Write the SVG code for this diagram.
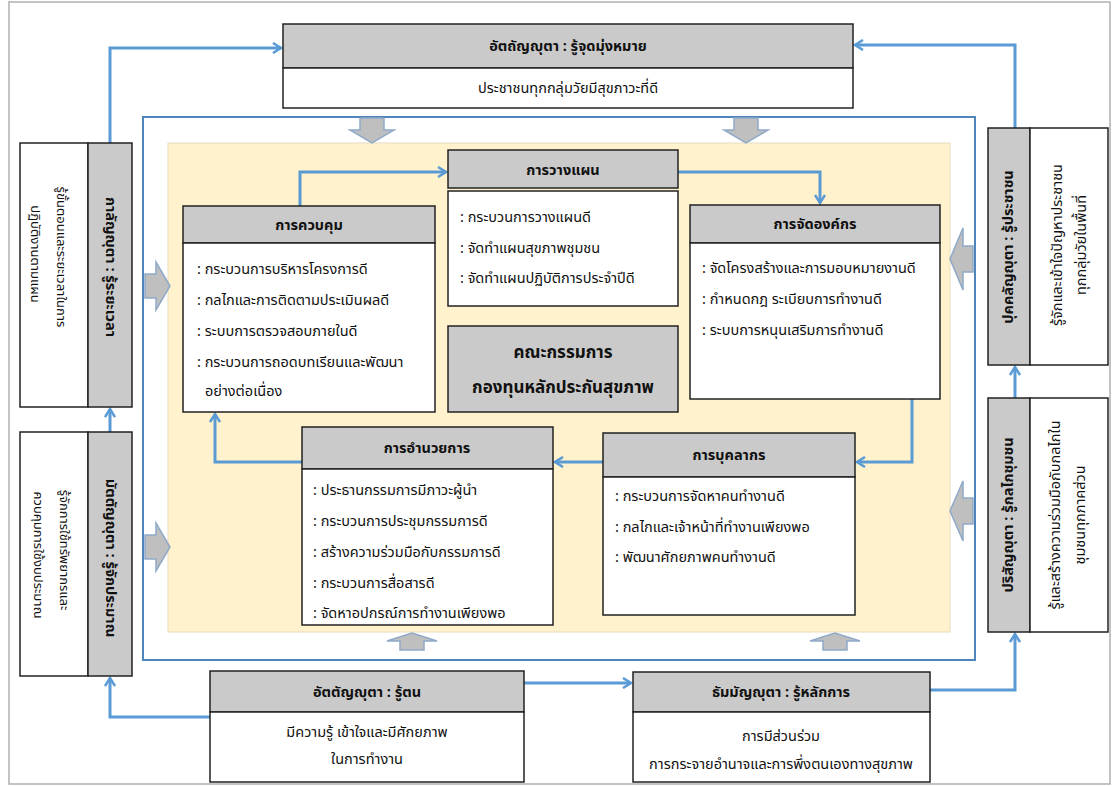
<svg xmlns="http://www.w3.org/2000/svg" width="1119" height="787" viewBox="0 0 1119 787">
<defs>
<style>
text{font-family:"Noto Sans Thai","Noto Sans","DejaVu Sans",sans-serif;font-size:14.5px;fill:#111}
.h{font-weight:bold;text-anchor:middle}
.c{text-anchor:middle}
.s{font-size:13px}
.big{font-size:17px;font-weight:bold;text-anchor:middle}
.hd{fill:#cacaca;stroke:#222;stroke-width:1.5}
.bd{fill:#fff;stroke:#222;stroke-width:1.5}
.ln{fill:none;stroke:#5b9bd5;stroke-width:3;stroke-linejoin:miter}
.blk{fill:#bfbfbf;stroke:#8fa9c9;stroke-width:1.5}
</style>
<marker id="ar" viewBox="0 0 12 12" refX="10" refY="6" markerWidth="12" markerHeight="12" markerUnits="userSpaceOnUse" orient="auto">
<path d="M2,1 L10,6 L2,11" fill="none" stroke="#5b9bd5" stroke-width="2.5"/>
</marker>
</defs>
<rect x="0" y="0" width="1119" height="787" fill="#fff"/>
<rect x="9" y="2" width="1101" height="782" fill="none" stroke="#b0b0b0" stroke-width="1.5"/>
<rect x="143" y="117" width="832" height="543" fill="#fff" stroke="#4f84bd" stroke-width="2"/>
<rect x="168" y="143" width="782" height="489" fill="#fff2cc" stroke="#e6dcc0" stroke-width="1"/>

<g id="block-arrows">
<path class="blk" d="M360,118 H384 V130 H394 L372,143 L350,130 H360 Z"/>
<path class="blk" d="M734,118 H758 V130 H768 L746,143 L724,130 H734 Z"/>
<path class="blk" d="M145,274 H156 V262 L170,286 L156,310 V298 H145 Z"/>
<path class="blk" d="M145,535 H156 V523 L170,547 L156,571 V559 H145 Z"/>
<path class="blk" d="M973,246 H963 V228 L950,259 L963,290 V272 H973 Z"/>
<path class="blk" d="M973,498 H963 V481 L950,511 L963,541 V524 H973 Z"/>
<path class="blk" d="M400,650 V641 H387 L412,633 L437,641 H424 V650 Z"/>
<path class="blk" d="M823,650 V641 H810 L835,633 L860,641 H847 V650 Z"/>
</g>

<g id="connectors">
<path class="ln" d="M110,143 V48 H281" marker-end="url(#ar)"/>
<path class="ln" d="M110,432 V409" marker-end="url(#ar)"/>
<path class="ln" d="M210,717 H110 V678" marker-end="url(#ar)"/>
<path class="ln" d="M524,683 H631" marker-end="url(#ar)"/>
<path class="ln" d="M930,690 H1015 V634" marker-end="url(#ar)"/>
<path class="ln" d="M1015,398 V367" marker-end="url(#ar)"/>
<path class="ln" d="M1015,128 V45 H855" marker-end="url(#ar)"/>
<path class="ln" d="M300,206 V172 H446" marker-end="url(#ar)"/>
<path class="ln" d="M678,172 H820 V203" marker-end="url(#ar)"/>
<path class="ln" d="M912,399 V462 H857" marker-end="url(#ar)"/>
<path class="ln" d="M603,462 H555" marker-end="url(#ar)"/>
<path class="ln" d="M302,462 H215 V414" marker-end="url(#ar)"/>
</g>

<g id="top-goal">
<rect class="hd" x="283" y="24" width="570" height="44"/>
<rect class="bd" x="283" y="68" width="570" height="40"/>
<text class="h" x="568" y="51">อัตถัญญุตา : รู้จุดมุ่งหมาย</text>
<text class="c" x="568" y="93">ประชาชนทุกกลุ่มวัยมีสุขภาวะที่ดี</text>
</g>

<g id="left-time">
<rect class="bd" x="20" y="143" width="68" height="264"/>
<rect class="hd" x="88" y="143" width="44" height="264"/>
<text class="h" transform="translate(110,267) rotate(90)" dominant-baseline="central">กาลัญญุตา : รู้ระยะเวลา</text>
<text class="c s" transform="translate(61,257) rotate(90)" dominant-baseline="central">รู้ขั้นตอนและระยะเวลาในการ</text>
<text class="c s" transform="translate(35,254) rotate(90)" dominant-baseline="central">ปฏิบัติงานตามแผน</text>
</g>

<g id="left-measure">
<rect class="bd" x="20" y="432" width="68" height="244"/>
<rect class="hd" x="88" y="432" width="44" height="244"/>
<text class="h" transform="translate(110,558) rotate(90)" dominant-baseline="central">มัตตัญญุตา : รู้จักประมาณ</text>
<text class="c s" transform="translate(64,550) rotate(90)" dominant-baseline="central">รู้จักการใช้ทรัพยากรและ</text>
<text class="c s" transform="translate(38,555) rotate(90)" dominant-baseline="central">ควบคุมการใช้งบประมาณ</text>
</g>

<g id="right-people">
<rect class="hd" x="988" y="128" width="42" height="237"/>
<rect class="bd" x="1030" y="128" width="78" height="237"/>
<text class="h" transform="translate(1009,247) rotate(-90)" dominant-baseline="central">ปุคคลัญญุตา : รู้ประชาชน</text>
<text class="c" transform="translate(1058,245) rotate(-90)" dominant-baseline="central">รู้จักและเข้าใจปัญหาประชาชน</text>
<text class="c" transform="translate(1082,245) rotate(-90)" dominant-baseline="central">ทุกกลุ่มวัยในพื้นที่</text>
</g>

<g id="right-community">
<rect class="hd" x="988" y="398" width="42" height="234"/>
<rect class="bd" x="1030" y="398" width="78" height="234"/>
<text class="h" transform="translate(1009,515) rotate(-90)" dominant-baseline="central">ปริสัญญุตา : รู้กลไกชุมชน</text>
<text class="c" transform="translate(1056,515) rotate(-90)" dominant-baseline="central">รู้และสร้างความร่วมมือกับกลไกใน</text>
<text class="c" transform="translate(1081,515) rotate(-90)" dominant-baseline="central">ชุมชนทุกภาคส่วน</text>
</g>

<g id="bottom-self">
<rect class="hd" x="210" y="671" width="314" height="41"/>
<rect class="bd" x="210" y="712" width="314" height="70"/>
<text class="h" x="367" y="697">อัตตัญญุตา : รู้ตน</text>
<text class="c" x="367" y="737">มีความรู้ เข้าใจและมีศักยภาพ</text>
<text class="c" x="367" y="764">ในการทำงาน</text>
</g>

<g id="bottom-principle">
<rect class="hd" x="633" y="672" width="297" height="40"/>
<rect class="bd" x="633" y="712" width="297" height="70"/>
<text class="h" x="781" y="697">ธัมมัญญุตา : รู้หลักการ</text>
<text class="c" x="781" y="741">การมีส่วนร่วม</text>
<text class="c" x="781" y="769">การกระจายอำนาจและการพึ่งตนเองทางสุขภาพ</text>
</g>

<g id="control">
<rect class="hd" x="183" y="206" width="252" height="37"/>
<rect class="bd" x="183" y="243" width="252" height="169"/>
<text class="h" x="309" y="230">การควบคุม</text>
<text x="197" y="274">: กระบวนการบริหารโครงการดี</text>
<text x="197" y="305">: กลไกและการติดตามประเมินผลดี</text>
<text x="197" y="336">: ระบบการตรวจสอบภายในดี</text>
<text x="197" y="367">: กระบวนการถอดบทเรียนและพัฒนา</text>
<text x="205" y="396">อย่างต่อเนื่อง</text>
</g>

<g id="planning">
<rect class="hd" x="448" y="150" width="230" height="38"/>
<rect class="bd" x="448" y="191" width="230" height="115"/>
<text class="h" x="563" y="175">การวางแผน</text>
<text x="460" y="222">: กระบวนการวางแผนดี</text>
<text x="460" y="253">: จัดทำแผนสุขภาพชุมชน</text>
<text x="460" y="283">: จัดทำแผนปฏิบัติการประจำปีดี</text>
</g>

<g id="committee">
<rect class="hd" x="448" y="326" width="230" height="86"/>
<text class="big" x="563" y="358">คณะกรรมการ</text>
<text class="big" x="563" y="393">กองทุนหลักประกันสุขภาพ</text>
</g>

<g id="organizing">
<rect class="hd" x="690" y="205" width="250" height="38"/>
<rect class="bd" x="690" y="243" width="250" height="156"/>
<text class="h" x="815" y="229">การจัดองค์กร</text>
<text x="702" y="273">: จัดโครงสร้างและการมอบหมายงานดี</text>
<text x="702" y="304">: กำหนดกฎ ระเบียบการทำงานดี</text>
<text x="702" y="335">: ระบบการหนุนเสริมการทำงานดี</text>
</g>

<g id="staffing">
<rect class="hd" x="603" y="433" width="252" height="44"/>
<rect class="bd" x="603" y="477" width="252" height="138"/>
<text class="h" x="729" y="460">การบุคลากร</text>
<text x="615" y="501">: กระบวนการจัดหาคนทำงานดี</text>
<text x="615" y="532">: กลไกและเจ้าหน้าที่ทำงานเพียงพอ</text>
<text x="615" y="562">: พัฒนาศักยภาพคนทำงานดี</text>
</g>

<g id="directing">
<rect class="hd" x="302" y="427" width="251" height="42"/>
<rect class="bd" x="302" y="469" width="251" height="156"/>
<text class="h" x="427" y="453">การอำนวยการ</text>
<text x="313" y="495">: ประธานกรรมการมีภาวะผู้นำ</text>
<text x="313" y="526">: กระบวนการประชุมกรรมการดี</text>
<text x="313" y="557">: สร้างความร่วมมือกับกรรมการดี</text>
<text x="313" y="588">: กระบวนการสื่อสารดี</text>
<text x="313" y="618">: จัดหาอปกรณ์การทำงานเพียงพอ</text>
</g>
</svg>
